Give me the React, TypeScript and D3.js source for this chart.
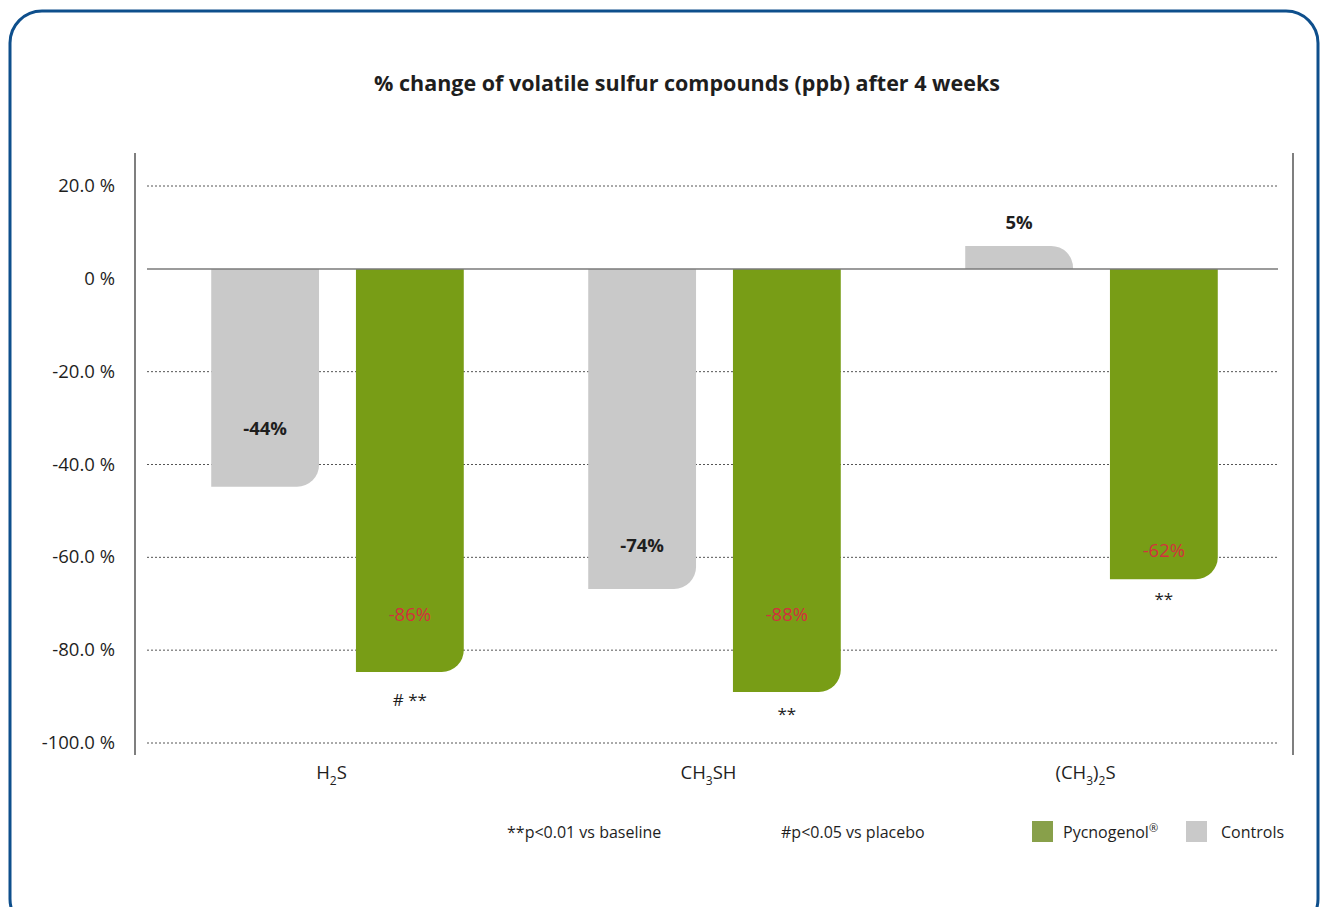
import React from "react";
import * as d3 from "d3";

// ---- data ----
const categories = ["H2S", "CH3SH", "(CH3)2S"];
const categoryLabelParts: { t: string; sub?: boolean }[][] = [
  [{ t: "H" }, { t: "2", sub: true }, { t: "S" }],
  [{ t: "CH" }, { t: "3", sub: true }, { t: "SH" }],
  [{ t: "(CH" }, { t: "3", sub: true }, { t: ")" }, { t: "2", sub: true }, { t: "S" }],
];
const series = ["Controls", "Pycnogenol"];
const controlsValues = [-44.8, -66.8, 7.1];
const pycnogenolValues = [-84.7, -89.0, -64.7];
const controlsLabels = ["-44%", "-74%", "5%"];
const pycnogenolLabels = ["-86%", "-88%", "-62%"];
const controlsLabelAt = [-32.1, -57.3, 12.3];
const pycnogenolLabelAt = [-72.2, -72.2, -58.4];
const sigMarks = ["# **", "**", "**"];
const sigMarkAt = [-90.6, -93.6, -68.9];
const yTicks = [20, 0, -20, -40, -60, -80, -100];
const yTickLabels = ["20.0 %", "0 %", "-20.0 %", "-40.0 %", "-60.0 %", "-80.0 %", "-100.0 %"];
const baselineValue = 2.1;
const title = "% change of volatile sulfur compounds (ppb) after 4 weeks";
const footnotes = ["**p<0.01 vs baseline", "#p<0.05 vs placebo"];
const legendItems = [
  { name: "Pycnogenol", sup: "®", color: "#88a04a" },
  { name: "Controls", sup: "", color: "#c9c9c9" },
];

const W = 1322;
const H = 907;
const FONT = "'Open Sans', 'Noto Sans', sans-serif";
const GREEN = "#789d16";
const GRAY = "#c9c9c9";
const RED = "#d3313d";
const TEXT = "#1e1e1e";

function barPath(x: number, w: number, y0: number, y1: number, r: number) {
  if (y1 > y0) {
    const rr = Math.min(r, y1 - y0, w);
    return `M${x},${y0}H${x + w}V${y1 - rr}A${rr},${rr} 0 0 1 ${x + w - rr},${y1}H${x}Z`;
  } else {
    const rr = Math.min(r, y0 - y1, w);
    return `M${x},${y0}V${y1}H${x + w - rr}A${rr},${rr} 0 0 1 ${x + w},${y1 + rr}V${y0}Z`;
  }
}

export default function App() {
  const plotL = 147;
  const plotR = 1278;
  const y = d3.scaleLinear().domain([-100, 20]).range([743, 186]);
  const x0 = d3
    .scaleBand<string>()
    .domain(categories)
    .range([plotL + 2, plotR + 2])
    .paddingInner(0)
    .paddingOuter(0);
  const x1 = d3
    .scaleBand<string>()
    .domain(series)
    .range([0, x0.bandwidth()])
    .paddingInner(0.255)
    .paddingOuter(0.43);
  const bw = x1.bandwidth();
  const yBase = y(baselineValue);
  const radius = 22;

  return (
    <svg
      width={W}
      height={H}
      style={{ position: "absolute", left: 0, top: 0, background: "#fff" }}
      fontFamily={FONT}
    >
      <rect x={0} y={0} width={W} height={H} fill="#fff" />
      {/* frame */}
      <rect x={10} y={11} width={1308} height={920} rx={32} ry={32} fill="none" stroke="#0e4f8c" strokeWidth={3} />

      {/* title */}
      <text x={687} y={82} textAnchor="middle" dominantBaseline="central" fontSize={21.5} fontWeight="bold" fill={TEXT}>
        {title}
      </text>

      {/* axes side lines */}
      <line x1={135} x2={135} y1={153} y2={755} stroke="#555" strokeWidth={1.5} />
      <line x1={1293} x2={1293} y1={153} y2={755} stroke="#555" strokeWidth={1.5} />

      {/* gridlines + tick labels */}
      {yTicks.map((t, i) => (
        <g key={t}>
          {t !== 0 && (
            <line x1={plotL} x2={plotR} y1={y(t)} y2={y(t)} stroke="#555" strokeWidth={1} strokeDasharray="2,2" />
          )}
          <text
            x={115}
            y={y(t) - 1.5}
            textAnchor="end"
            dominantBaseline="central"
            fontSize={18.5}
            fill={TEXT}
          >
            {yTickLabels[i]}
          </text>
        </g>
      ))}

      {/* bars */}
      {categories.map((c, i) => {
        const bx0 = x0(c)! + x1("Controls")!;
        const bx1 = x0(c)! + x1("Pycnogenol")!;
        return (
          <g key={c}>
            <path d={barPath(bx0, bw, yBase, y(controlsValues[i]), radius)} fill={GRAY} />
            <path d={barPath(bx1, bw, yBase, y(pycnogenolValues[i]), radius)} fill={GREEN} />
          </g>
        );
      })}

      {/* zero line */}
      <line x1={plotL} x2={plotR} y1={yBase} y2={yBase} stroke="#7a7a7a" strokeWidth={1.5} />

      {/* value labels */}
      {categories.map((c, i) => {
        const cx0 = x0(c)! + x1("Controls")! + bw / 2;
        const cx1 = x0(c)! + x1("Pycnogenol")! + bw / 2;
        return (
          <g key={c + "lab"}>
            <text x={cx0} y={y(controlsLabelAt[i])} textAnchor="middle" dominantBaseline="central" fontSize={18.5} fontWeight="bold" fill={TEXT}>
              {controlsLabels[i]}
            </text>
            <text x={cx1} y={y(pycnogenolLabelAt[i])} textAnchor="middle" dominantBaseline="central" fontSize={18.5} fontWeight={500} fill={RED}>
              {pycnogenolLabels[i]}
            </text>
            <text x={cx1} y={y(sigMarkAt[i])} textAnchor="middle" dominantBaseline="central" fontSize={17} fill={TEXT}>
              {sigMarks[i]}
            </text>
          </g>
        );
      })}

      {/* category labels */}
      {categories.map((c, i) => (
        <text
          key={c + "x"}
          x={x0(c)! + x0.bandwidth() / 2 - 6}
          y={779}
          textAnchor="middle"
          fontSize={18.5}
          fill={TEXT}
        >
          {categoryLabelParts[i].map((p, j) =>
            p.sub ? (
              <tspan key={j} fontSize={12} dy={6}>
                {p.t}
              </tspan>
            ) : (
              <tspan key={j} dy={j > 0 && categoryLabelParts[i][j - 1].sub ? -6 : 0}>
                {p.t}
              </tspan>
            )
          )}
        </text>
      ))}

      {/* footnotes */}
      <text x={507} y={832} dominantBaseline="central" fontSize={16} fill={TEXT}>
        {footnotes[0]}
      </text>
      <text x={781} y={832} dominantBaseline="central" fontSize={16} fill={TEXT}>
        {footnotes[1]}
      </text>

      {/* legend */}
      {legendItems.map((it, i) => {
        const sx = [1032, 1186][i];
        const tx = [1063, 1221][i];
        return (
          <g key={it.name}>
            <rect x={sx} y={821} width={21} height={21} fill={it.color} />
            <text x={tx} y={832} dominantBaseline="central" fontSize={16} fill={TEXT}>
              {it.name}
              {it.sup && (
                <tspan fontSize={11} dy={-5}>
                  {it.sup}
                </tspan>
              )}
            </text>
          </g>
        );
      })}
    </svg>
  );
}
